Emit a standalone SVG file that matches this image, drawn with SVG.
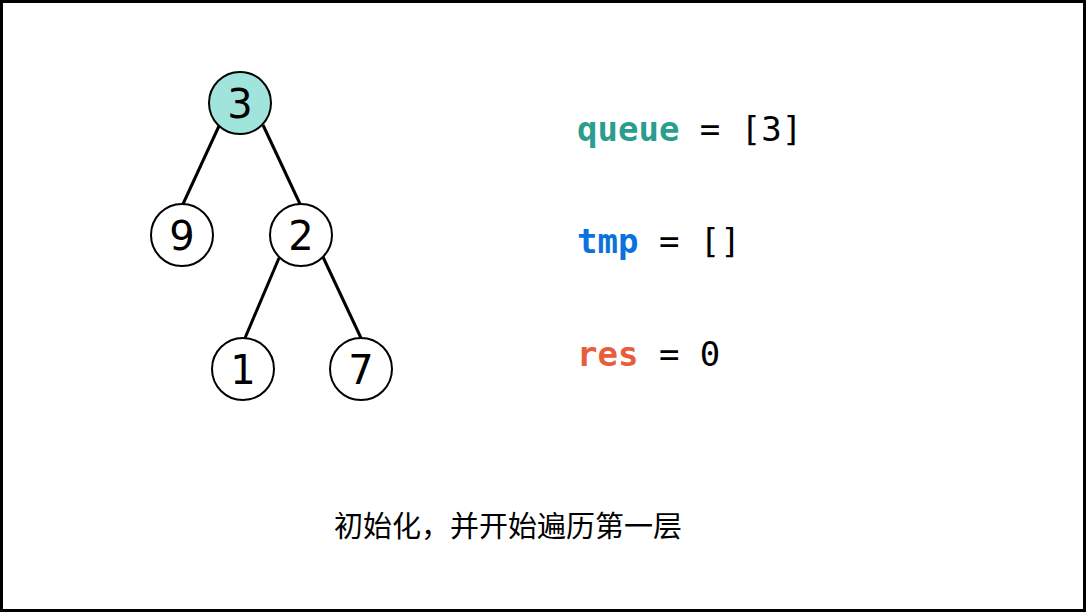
<svg xmlns="http://www.w3.org/2000/svg" width="1086" height="612" viewBox="0 0 1086 612">
<style>
.node circle{fill:#fff;stroke:#000;stroke-width:2}
.node text{font-family:"DejaVu Sans",sans-serif;font-size:40px;text-anchor:middle;fill:#000}
.edges line{stroke:#000;stroke-width:3}
.code{font-family:"DejaVu Sans Mono",monospace;font-size:34px;fill:#000}
.var{font-weight:bold}
</style>
<rect x="1.5" y="1.5" width="1083" height="609" fill="#fff" stroke="#000" stroke-width="3"/>
<g id="edges" class="edges">
<line x1="219" y1="126" x2="183" y2="204"/>
<line x1="263" y1="125" x2="300" y2="204"/>
<line x1="279" y1="258" x2="245" y2="338"/>
<line x1="323" y1="257" x2="361" y2="338"/>
</g>
<g id="n3" class="node"><circle cx="240" cy="103" r="31" style="fill:#a0e4dc"/><text x="240" y="118">3</text></g>
<g id="n9" class="node"><circle cx="182" cy="235" r="31"/><text x="182" y="250">9</text></g>
<g id="n2" class="node"><circle cx="301" cy="235" r="31"/><text x="301" y="250">2</text></g>
<g id="n1" class="node"><circle cx="243" cy="369" r="31"/><text x="243" y="384">1</text></g>
<g id="n7" class="node"><circle cx="361" cy="369" r="31"/><text x="361" y="384">7</text></g>
<text class="code" x="577" y="141" xml:space="preserve"><tspan class="var" fill="#2a9d8f">queue</tspan> = [3]</text>
<text class="code" x="577" y="253" xml:space="preserve"><tspan class="var" fill="#0b70e0">tmp</tspan> = []</text>
<text class="code" x="577" y="366" xml:space="preserve"><tspan class="var" fill="#e85d3c">res</tspan> = 0</text>
<text x="508" y="537" text-anchor="middle" font-family="'Noto Sans CJK SC',sans-serif" font-size="29" fill="#000">初始化，并开始遍历第一层</text>
</svg>
